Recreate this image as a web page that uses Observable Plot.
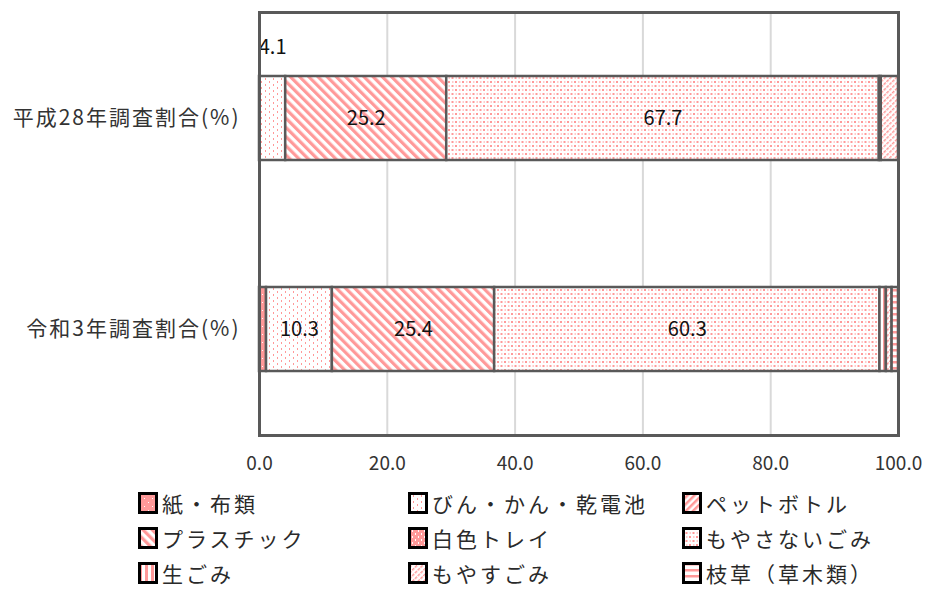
<!DOCTYPE html>
<html>
<head>
<meta charset="utf-8">
<script src="https://cdn.jsdelivr.net/npm/d3@7"></script>
<script src="https://cdn.jsdelivr.net/npm/@observablehq/plot@0.6"></script>
<style>
  body { margin: 0; background: #fff; font-family: "Noto Sans CJK JP", "Noto Sans", sans-serif; }
  #chart { position: relative; width: 929px; height: 589px; overflow: hidden; }
  #chart svg [aria-label="y-axis tick label"] text { letter-spacing: 2px; }
  .legend-item { position: absolute; display: flex; align-items: center; height: 22px; font-size: 21px; letter-spacing: 3px; color: #2a2a2a; white-space: nowrap; }
  .legend-item svg { margin-right: 4px; flex: none; }
  .legend-item span { display: inline-block; height: 22px; line-height: 22px; overflow: visible; }
</style>
</head>
<body>
<div id="chart"></div>
<script>
// Survey rows, waste categories and the share (%) of each category per survey
const surveys = ["平成28年調査割合(%)", "令和3年調査割合(%)"];
const categories = ["紙・布類", "びん・かん・乾電池", "ペットボトル", "プラスチック", "白色トレイ", "もやさないごみ", "生ごみ", "もやすごみ", "枝草（草木類）"];
const valuesH28 = [0, 4.1, 0, 25.2, 0, 67.7, 0.3, 2.7, 0];
const valuesR3 = [1.1, 10.3, 0, 25.4, 0, 60.3, 1.0, 0.9, 1.0];
const xTicks = [0, 20, 40, 60, 80, 100];

// Which segments carry a printed value, and whether it sits inside or above the bar
const labelsInside = [
  [surveys[0], "プラスチック"], [surveys[0], "もやさないごみ"],
  [surveys[1], "びん・かん・乾電池"], [surveys[1], "プラスチック"], [surveys[1], "もやさないごみ"]
];
const labelsAbove = [[surveys[0], "びん・かん・乾電池"]];

const rows = surveys.flatMap((s, si) =>
  categories.map((c, ci) => ({survey: s, category: c, value: [valuesH28, valuesR3][si][ci]}))
).filter(d => d.value > 0);

const has = (list, d) => list.some(([s, c]) => s === d.survey && c === d.category);
const patternIds = categories.map((c, i) => `pat${i}`);

const chart = Plot.plot({
  width: 929,
  height: 480,
  marginLeft: 259,
  marginRight: 31,
  marginTop: 12,
  marginBottom: 45,
  style: {fontFamily: '"Noto Sans CJK JP", "Noto Sans", sans-serif', color: "#333", background: "#fff"},
  x: {domain: [0, 100]},
  y: {domain: surveys, paddingInner: 0.6, paddingOuter: 0.3},
  color: {domain: categories, range: patternIds.map(id => `url(#${id})`)},
  marks: [
    Plot.ruleX(xTicks.filter(t => t > 0 && t < 100), {stroke: "#d9d9d9", strokeWidth: 2}),
    Plot.barX(rows, Plot.stackX({x: "value", y: "survey", fill: "category", stroke: "#595959", strokeWidth: 2.5})),
    Plot.text(rows, Plot.stackX({
      x: "value", y: "survey", z: "category",
      text: d => has(labelsInside, d) ? d.value.toFixed(1) : null,
      fontSize: 20, fill: "#111"
    })),
    Plot.text(rows, Plot.stackX({
      x: "value", y: "survey", z: "category",
      text: d => has(labelsAbove, d) ? d.value.toFixed(1) : null,
      fontSize: 20, fill: "#111", dy: -71
    })),
    Plot.frame({stroke: "#595959", strokeWidth: 3}),
    Plot.axisX({ticks: xTicks, tickFormat: d => d.toFixed(1), tickSize: 0, tickPadding: 21, fontSize: 19, label: null}),
    Plot.axisY({tickSize: 0, tickPadding: 19, fontSize: 21, label: null})
  ]
});

// Fill patterns for the nine categories (pink on white)
const pink = "#ff9999";
const defsMarkup = `
<pattern id="pat0" width="8" height="8" patternUnits="userSpaceOnUse">
  <rect width="8" height="8" fill="${pink}"/><rect x="2" y="2" width="1" height="1" fill="#fff"/><rect x="6" y="6" width="1" height="1" fill="#fff"/>
</pattern>
<pattern id="pat1" width="8" height="6" patternUnits="userSpaceOnUse">
  <rect width="8" height="6" fill="#fff"/><rect x="1" y="0" width="1" height="2" fill="${pink}"/><rect x="5" y="3" width="1" height="2" fill="${pink}"/>
</pattern>
<pattern id="pat2" width="5" height="5" patternUnits="userSpaceOnUse" patternTransform="rotate(45)">
  <rect width="5" height="5" fill="#fff"/><rect width="2.5" height="5" fill="${pink}"/>
</pattern>
<pattern id="pat3" width="6.5" height="6.5" patternUnits="userSpaceOnUse" patternTransform="rotate(-45)">
  <rect width="6.5" height="6.5" fill="#fff"/><rect width="3.2" height="6.5" fill="${pink}"/>
</pattern>
<pattern id="pat4" width="6" height="6" patternUnits="userSpaceOnUse">
  <rect width="6" height="6" fill="${pink}"/><rect x="1" y="0" width="1" height="2" fill="#fff"/><rect x="4" y="3" width="1" height="2" fill="#fff"/>
</pattern>
<pattern id="pat5" width="7" height="8" patternUnits="userSpaceOnUse">
  <rect width="7" height="8" fill="#fff"/><rect x="0" y="1" width="2" height="2" fill="${pink}"/><rect x="3.5" y="5" width="2" height="2" fill="${pink}"/>
  <rect x="4" y="1.5" width="1.5" height="1" fill="${pink}"/><rect x="0.5" y="5.5" width="1.5" height="1" fill="${pink}"/>
</pattern>
<pattern id="pat6" width="6" height="6" patternUnits="userSpaceOnUse">
  <rect width="6" height="6" fill="#fff"/><rect x="1" width="3" height="6" fill="${pink}"/>
</pattern>
<pattern id="pat7" width="4" height="4" patternUnits="userSpaceOnUse" patternTransform="rotate(45)">
  <rect width="4" height="4" fill="#fff"/><rect width="1.5" height="3" fill="${pink}"/>
</pattern>
<pattern id="pat8" width="6" height="6" patternUnits="userSpaceOnUse">
  <rect width="6" height="6" fill="#fff"/><rect y="1" width="6" height="2.5" fill="${pink}"/>
</pattern>`;
const defs = document.createElementNS("http://www.w3.org/2000/svg", "defs");
defs.innerHTML = defsMarkup;
chart.insertBefore(defs, chart.firstChild);

const container = document.getElementById("chart");
container.appendChild(chart);

// Legend: three columns, filled row by row
const colLeft = [138, 408, 682];
categories.forEach((c, i) => {
  const item = document.createElement("div");
  item.className = "legend-item";
  item.style.left = colLeft[i % 3] + "px";
  item.style.top = (492 + Math.floor(i / 3) * 35) + "px";
  item.innerHTML = `<svg width="20" height="22"><rect x="1.5" y="1.5" width="17" height="19" fill="url(#${patternIds[i]})" stroke="#000" stroke-width="3"/></svg><span>${c}</span>`;
  container.appendChild(item);
});
</script>
</body>
</html>
